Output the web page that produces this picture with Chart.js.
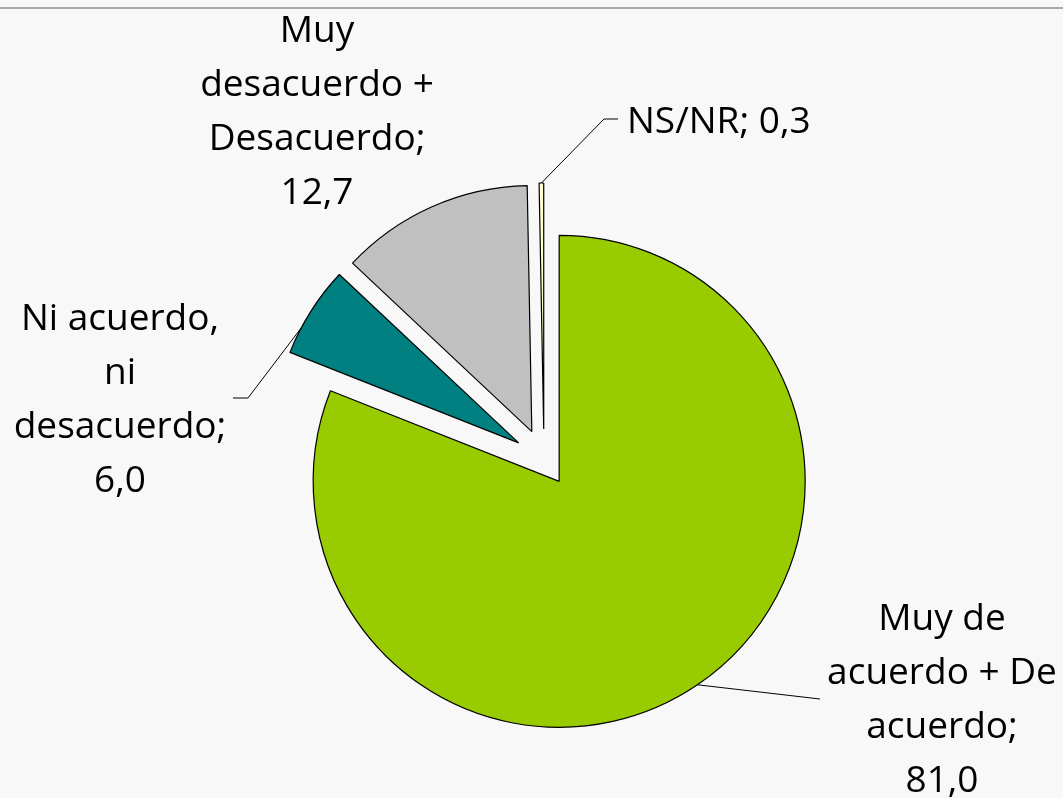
<!DOCTYPE html>
<html><head><meta charset="utf-8">
<script src="https://cdn.jsdelivr.net/npm/chart.js@4/dist/chart.umd.min.js"></script>
<style>html,body{margin:0;padding:0;background:#f8f8f8;overflow:hidden}
#wrap{position:relative;width:1063px;height:798px}</style>
</head><body><div id="wrap"><canvas id="c" width="1063" height="798"></canvas></div>
<script>
// ---- data ----
const categories = [["Muy de", "acuerdo + De", "acuerdo"], ["Ni acuerdo,", "ni", "desacuerdo"], ["Muy", "desacuerdo +", "Desacuerdo"], ["NS/NR"]];
const values = [81.0, 6.0, 12.7, 0.3];
// ---- styles ----
const colors = ["#99CC00", "#008080", "#C0C0C0", "#FFFFCC"];
const explode = [27, 30, 30, 30];
const valueOnNewLine = [true, true, true, false];
const labelAnchor = [{x: 942, y: 630, align: 'center'}, {x: 120, y: 330, align: 'center'}, {x: 317, y: 42, align: 'center'}, {x: 627, y: 133, align: 'left'}];
const leaderFrac = [0.5, 0.29, null, 0.5];
const leaderPath = [[[820, 699]], [[248, 398], [233, 398]], null, [[604, 119], [618, 119]]];
const FONT = "37px 'Open Sans', 'Noto Sans', sans-serif";
const LINE_H = 54;

function fmt(v) { return v.toFixed(1).replace('.', ','); }

const bgPlugin = {
  id: 'bg',
  beforeDraw(chart) {
    const ctx = chart.ctx;
    ctx.save();
    ctx.fillStyle = '#f8f8f8';
    ctx.fillRect(0, 0, chart.width, chart.height);
    ctx.fillStyle = '#aaaaaa';
    ctx.fillRect(0, 7, chart.width, 2);
    ctx.restore();
  }
};

const explodePlugin = {
  id: 'explode',
  beforeDatasetDraw(chart, args) {
    const ctx = chart.ctx;
    args.meta.data.forEach((arc, i) => {
      const mid = (arc.startAngle + arc.endAngle) / 2;
      ctx.save();
      ctx.translate(Math.cos(mid) * explode[i], Math.sin(mid) * explode[i]);
      arc.draw(ctx, chart.chartArea);
      ctx.restore();
    });
    return false;
  }
};

const labelPlugin = {
  id: 'labels',
  afterDatasetsDraw(chart) {
    const ctx = chart.ctx;
    const meta = chart.getDatasetMeta(0);
    ctx.save();
    meta.data.forEach((arc, i) => {
      if (leaderFrac[i] !== null) {
        const mid = (arc.startAngle + arc.endAngle) / 2;
        const a = arc.startAngle + leaderFrac[i] * (arc.endAngle - arc.startAngle);
        const cx = arc.x + Math.cos(mid) * explode[i];
        const cy = arc.y + Math.sin(mid) * explode[i];
        const px = cx + Math.cos(a) * arc.outerRadius;
        const py = cy + Math.sin(a) * arc.outerRadius;
        ctx.beginPath();
        ctx.moveTo(px, py);
        leaderPath[i].forEach(p => ctx.lineTo(p[0], p[1]));
        ctx.strokeStyle = '#000';
        ctx.lineWidth = 1;
        ctx.stroke();
      }
      const lines = categories[i].slice();
      const val = fmt(values[i]);
      if (valueOnNewLine[i]) {
        lines[lines.length - 1] += ';';
        lines.push(val);
      } else {
        lines[lines.length - 1] += '; ' + val;
      }
      ctx.font = FONT;
      ctx.fillStyle = '#000';
      ctx.textAlign = labelAnchor[i].align;
      ctx.textBaseline = 'alphabetic';
      lines.forEach((t, k) => ctx.fillText(t, labelAnchor[i].x, labelAnchor[i].y + k * LINE_H));
    });
    ctx.restore();
  }
};

new Chart(document.getElementById('c'), {
  type: 'pie',
  data: {
    labels: categories,
    datasets: [{
      data: values,
      backgroundColor: colors,
      borderColor: '#000000',
      borderWidth: 1.2
    }]
  },
  options: {
    responsive: false,
    animation: false,
    radius: 246,
    layout: {padding: {left: 25, right: 0, top: 120, bottom: 0}},
    plugins: {legend: {display: false}, tooltip: {enabled: false}}
  },
  plugins: [bgPlugin, explodePlugin, labelPlugin]
});
</script></body></html>
